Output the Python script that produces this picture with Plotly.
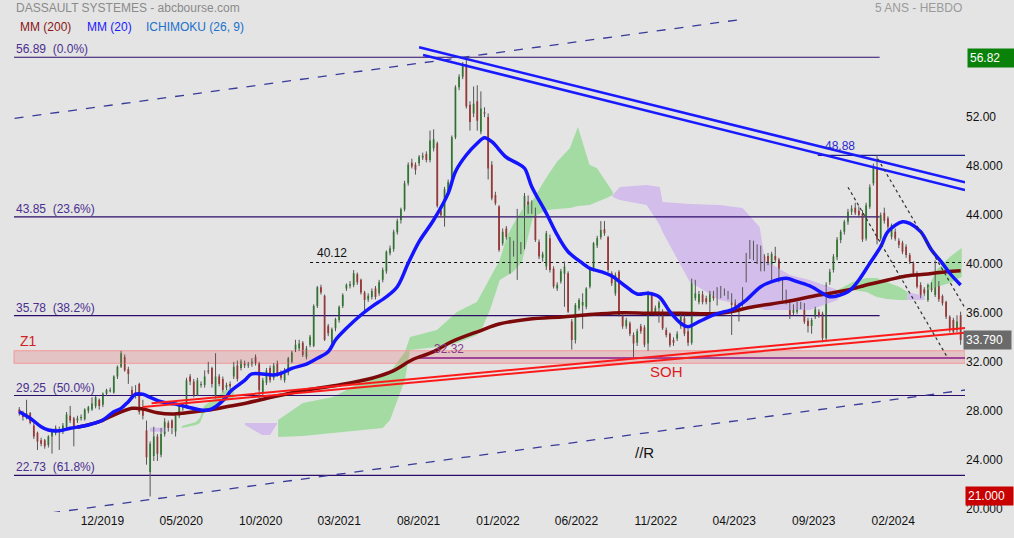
import pandas as pd
import plotly.graph_objects as go

# ---------------- DATA ----------------
dates = pd.date_range("2019-06-24", periods=260, freq="7D")

opens = [28.1,27.8,27.5,27.8,26.8,26.2,25.6,25.6,25.2,25.9,26.2,26.5,26.3,26.7,27.6,27.4,27.2,27.4,27.3,28.0,
 28.1,28.4,28.9,28.5,29.4,29.6,29.5,30.8,31.6,32.4,31.4,29.7,29.5,30.2,28.2,26.4,23.0,24.3,25.9,24.4,
 26.1,27.0,27.2,26.3,27.6,28.2,28.3,30.8,30.4,29.3,30.1,30.1,31.3,31.5,29.2,30.8,30.6,29.9,30.2,30.8,
 31.7,31.5,31.9,31.7,31.8,32.4,31.9,29.4,30.3,31.5,30.7,31.9,31.1,30.5,31.1,32.0,33.0,33.1,33.57,32.4,
 33.38,33.3,36.57,38.1,37.4,34.93,33.57,34.74,35.4,36.57,38.0,38.2,38.28,39.16,38.7,37.66,37.1,37.3,38.0,37.6,
 38.7,39.4,40.87,41.23,42.6,43.6,44.47,46.6,48.28,48.1,48.23,48.7,48.99,48.5,49.45,49.86,44.36,43.87,45.9,46.7,
 50.35,54.44,55.3,56.35,53.0,52.3,53.3,50.8,52.4,52.0,48.1,45.64,44.69,41.69,42.9,40.19,40.87,41.0,41.55,41.4,
 45.1,44.96,44.4,41.8,40.5,39.8,42.1,39.6,38.0,38.56,39.2,39.24,35.29,33.79,36.38,36.6,36.5,38.15,39.6,41.5,
 42.18,42.83,42.18,39.24,37.6,39.37,35.75,34.9,35.15,34.2,33.57,34.9,34.8,33.5,37.47,35.97,36.38,36.1,34.6,34.3,
 33.79,33.9,34.9,35.56,34.5,33.57,37.2,36.9,37.5,37.2,36.9,37.6,37.47,37.87,37.65,37.65,37.46,36.9,36.5,36.78,
 38.69,40.6,41.63,40.18,41.27,40.6,40.65,38.96,40.65,40.37,38.69,37.65,36.9,36.0,36.1,36.7,36.56,35.36,34.93,35.69,
 36.1,35.96,33.92,38.55,39.5,40.54,41.95,42.64,43.45,44.27,44.6,44.35,44.13,42.09,44.68,46.59,47.81,42.09,44.19,43.73,
 42.23,42.64,41.9,41.74,41.41,40.73,40.05,39.23,38.28,37.92,37.05,38.28,37.46,38.41,37.38,36.9,35.69,35.42,34.6,35.8]

highs = [28.3,28.0,28.9,27.9,27.0,26.3,25.8,25.7,26.0,26.4,26.8,26.7,27.0,27.9,28.4,27.5,27.6,27.7,28.2,28.4,
 29.1,29.2,29.0,29.5,29.8,29.9,30.9,31.7,32.9,32.6,31.6,30.0,30.1,30.3,28.9,27.2,25.5,26.7,26.1,26.6,
 27.4,27.2,27.3,27.8,28.5,28.6,30.7,31.0,30.6,30.7,30.4,31.3,32.0,31.6,32.7,31.0,30.8,30.3,30.4,32.0,
 32.1,32.2,32.1,32.0,32.3,32.6,32.0,30.7,31.5,31.7,31.9,32.1,31.3,31.5,32.4,32.9,33.8,33.8,33.7,33.3,
 34.2,36.7,38.2,38.3,37.5,35.1,34.8,35.6,36.6,37.6,38.4,38.6,39.5,39.3,38.8,37.8,37.6,38.0,38.2,38.7,
 39.7,41.1,41.5,42.8,43.7,44.6,46.8,48.3,48.6,48.3,48.9,49.1,49.2,50.9,51.0,50.0,44.6,46.3,46.9,50.5,
 54.6,55.5,56.5,56.82,53.3,54.5,54.6,54.1,52.8,52.3,48.4,45.9,44.8,42.9,43.1,42.2,41.9,44.5,41.8,45.8,
 45.6,45.2,44.6,42.0,41.0,42.7,42.4,39.8,38.5,39.6,40.2,39.4,35.5,36.8,37.2,37.6,38.1,39.7,41.8,42.3,
 43.5,43.5,42.3,39.4,39.3,39.5,35.9,35.6,35.3,34.4,34.7,35.1,35.0,37.8,37.7,36.6,37.0,36.3,34.8,34.4,
 34.0,34.5,35.9,35.8,34.7,38.8,38.7,37.8,37.8,37.4,37.8,37.8,38.1,38.2,38.0,37.8,37.6,37.1,36.8,38.1,
 40.9,41.96,41.9,41.6,41.5,40.8,40.9,41.0,41.4,40.5,38.9,37.9,37.1,36.7,36.9,36.9,36.8,35.6,35.6,36.5,
 36.3,36.1,38.5,39.6,40.8,42.2,42.8,43.6,44.5,44.8,45.0,44.7,44.4,45.0,46.5,48.2,48.88,44.2,44.6,43.9,
 43.3,42.9,42.1,41.9,41.6,40.9,40.2,39.4,38.5,38.1,38.4,38.5,40.3,38.6,37.5,37.0,35.8,35.6,35.8,36.1]

lows = [27.6,27.2,27.3,26.9,25.7,24.8,25.1,24.9,25.0,24.5,26.0,24.8,26.1,26.5,27.0,25.1,27.0,27.2,27.2,27.8,
 28.0,28.2,28.1,28.3,29.2,29.5,29.4,30.6,31.5,31.2,30.2,29.1,29.0,27.7,27.3,23.6,21.0,23.9,23.9,24.2,
 25.9,26.3,26.1,25.9,27.4,28.0,28.2,30.1,29.1,29.2,29.9,29.9,31.0,29.9,29.0,30.0,29.5,29.7,29.8,30.6,
 30.4,31.3,31.5,31.5,31.6,31.7,29.0,29.2,30.1,30.3,30.5,30.8,30.5,30.3,30.9,31.9,32.8,32.9,32.4,32.2,
 33.2,33.2,36.4,37.5,33.7,34.1,33.4,34.5,35.2,36.4,37.8,38.0,38.1,38.3,37.5,36.2,36.9,37.1,37.1,37.4,
 38.5,39.2,40.7,41.0,42.4,43.3,44.3,46.4,47.8,47.3,48.0,48.5,48.3,48.3,49.2,44.6,43.8,43.05,45.7,46.5,
 50.2,54.2,55.1,52.7,50.9,52.0,50.9,50.6,52.0,46.9,45.2,44.8,41.0,41.5,42.0,39.2,40.6,38.7,40.8,41.2,
 44.1,44.1,41.8,40.4,40.2,39.5,39.3,38.0,37.8,38.4,36.5,36.0,33.0,33.5,36.2,34.7,36.3,38.0,39.4,41.3,
 42.0,42.3,39.3,38.2,37.4,35.7,34.7,34.7,34.1,32.4,33.3,34.3,33.2,32.9,35.9,35.8,35.2,34.6,34.0,33.2,
 33.3,33.7,34.7,34.1,33.3,33.4,37.0,36.7,36.7,36.7,36.0,37.0,36.6,37.2,37.4,37.1,34.2,36.3,35.3,36.5,
 38.5,40.4,40.3,40.0,39.4,39.4,39.9,38.7,40.1,38.5,37.0,36.7,35.5,35.8,35.9,36.3,35.1,34.4,34.3,35.5,
 35.6,33.6,33.7,38.3,39.3,40.3,41.7,42.4,43.2,44.0,44.0,43.8,41.8,41.9,44.5,46.4,41.6,41.9,43.3,42.8,
 42.0,41.9,41.3,40.8,40.5,40.0,39.0,38.0,37.2,37.4,36.9,37.7,37.3,36.9,36.6,35.5,34.4,34.3,34.4,33.4]

closes = [27.8,27.5,27.8,27.0,25.9,25.5,25.3,25.1,25.9,26.3,26.6,26.4,26.8,27.7,27.2,26.6,27.4,27.5,28.1,28.3,
 28.6,29.1,28.4,29.4,29.7,29.7,30.8,31.6,32.7,31.3,31.0,29.3,29.4,27.9,27.6,24.2,25.3,25.9,24.5,26.1,
 27.1,26.6,26.6,27.6,28.4,28.4,30.5,30.4,29.3,30.5,30.2,30.8,31.2,30.2,30.8,30.2,29.7,30.1,30.0,31.6,
 30.6,32.0,31.7,31.8,32.0,31.9,29.7,30.5,31.3,30.5,31.7,30.9,30.7,31.3,32.3,32.76,33.4,33.5,32.57,33.1,
 34.06,36.57,38.1,37.66,33.8,34.33,34.66,35.48,36.5,37.47,38.3,38.35,39.24,38.5,37.66,37.06,37.4,37.8,37.3,38.5,
 39.5,41.0,41.28,42.64,43.5,44.47,46.6,48.1,47.96,47.7,48.77,48.85,48.5,50.08,50.19,44.74,43.98,46.1,46.7,50.35,
 54.44,55.3,56.35,52.86,51.6,53.1,51.7,52.7,52.3,47.8,45.37,44.96,41.15,42.64,42.2,40.74,41.69,42.1,41.0,45.56,
 44.3,44.3,41.96,40.6,40.8,42.5,39.5,38.15,38.3,39.4,39.8,36.1,33.79,36.65,37.06,36.9,38.0,39.6,41.69,42.1,
 42.78,42.5,39.5,38.42,39.1,35.83,34.9,35.4,34.3,33.5,34.5,34.5,33.4,37.6,36.1,36.4,36.84,34.75,34.2,33.38,
 33.57,34.3,35.7,34.3,33.57,38.56,37.6,37.55,36.9,36.9,37.6,37.2,37.9,37.46,37.87,37.3,36.64,36.5,36.4,37.92,
 40.73,41.68,40.54,41.41,39.64,39.64,40.05,40.81,40.32,38.69,37.19,36.9,35.74,36.45,36.64,36.5,35.28,34.93,35.42,36.29,
 35.83,33.92,38.28,39.37,40.6,42.0,42.64,43.45,44.27,44.54,44.19,44.0,42.0,44.8,46.26,48.0,42.0,44.0,43.54,43.05,
 43.18,42.09,41.55,41.0,40.73,40.18,39.23,38.14,37.38,37.6,38.28,37.87,38.55,37.11,36.78,35.69,34.6,34.46,35.3,33.79]

# moving averages (week index, value)
ma20_idx = [0,3,6,8,11,14,19,23,26,28,30,32,34,36,39,43,46,50,52,54,57,58,62,64,70,72,75,79,82,85,87,90,94,97,
            101,104,107,110,114,118,120,123,126,128,130,134,137,139,141,145,148,151,155,157,160,163,167,170,173,
            176,179,182,184,187,191,194,196,200,204,207,211,214,218,221,223,228,231,234,237,239,243,245,248,251,
            254,256,259]
ma20_val = [27.93,27.39,26.70,26.43,26.37,26.57,26.84,27.25,27.93,28.20,28.74,29.36,29.35,29.10,28.74,28.55,28.33,
            28.06,28.06,28.33,29.15,29.56,30.48,31.01,30.92,31.06,31.47,31.82,32.29,32.83,33.79,34.74,35.83,36.51,
            37.32,38.14,40.05,41.82,43.59,45.77,47.54,48.90,49.86,50.32,49.99,48.72,48.23,47.82,46.31,44.14,42.37,
            41.00,40.05,39.64,39.37,39.02,38.14,37.54,37.60,37.32,36.10,35.15,34.87,35.28,35.83,36.10,36.24,37.05,
            38.14,38.55,38.83,38.55,38.14,37.60,37.32,37.73,38.69,40.05,41.41,42.64,43.45,43.32,42.64,41.14,40.05,
            39.24,38.28]
ma200_idx = [16,22,25,31,34,38,42,46,52,57,62,70,79,88,97,103,108,114,119,127,132,140,150,159,166,173,182,193,
             202,211,220,228,233,239,244,250,255,259]
ma200_val = [26.65,27.11,27.52,28.20,28.15,27.84,27.74,27.84,28.06,28.33,28.60,29.15,29.70,30.11,30.66,31.28,32.15,
             32.83,33.65,34.56,35.09,35.48,35.69,35.91,36.02,35.97,35.97,35.97,36.51,36.92,37.46,37.87,38.28,38.69,
             39.02,39.18,39.37,39.45]

# Ichimoku cloud segments: (colour, week index, top, bottom)
cloud_segments = [
    ("purple", [35.9, 40.3], [26.62, 26.62], [26.29, 26.29]),
    ("green", [44.7, 48.6, 49.7, 50.8, 53.5, 56.8, 59.0],
              [26.76, 27.08, 27.41, 28.39, 28.96, 29.70, 29.94],
              [26.60, 26.84, 27.00, 27.82, 28.23, 28.80, 29.05]),
    ("purple", [62.1, 66.8, 69.0, 70.9], [27.0, 27.0, 27.0, 27.0], [26.84, 26.03, 26.03, 26.92]),
    ("green", [71.2, 78.0, 86.3, 93.7, 100.0, 102.0, 106.1, 107.5, 114.9, 120.4, 125.9, 127.5, 129.5,
               132.2, 134.1, 135.8, 138.3, 141.3, 145.1, 147.9, 151.5, 153.7, 156.9, 158.9, 161.6, 163.3],
              [27.25, 28.64, 29.13, 30.27, 31.01, 31.17, 32.80, 34.03, 34.60, 36.07, 36.89, 37.71, 38.85,
               40.32, 42.20, 43.18, 44.41, 45.23, 47.11, 48.33, 49.48, 51.20, 48.09, 47.84, 46.70, 45.88],
              [25.86, 25.94, 26.19, 26.43, 26.60, 27.25, 30.52, 32.97, 33.21, 33.54, 34.19, 34.85, 36.24,
               38.69, 39.01, 39.34, 40.15, 43.83, 44.41, 44.49, 44.57, 44.73, 44.81, 45.06, 45.38, 45.63]),
    ("purple", [163.3, 165.2, 172.6, 176.2, 177.0, 184.5, 192.7, 199.0, 203.7, 205.1, 212.0, 217.5, 225.2],
               [45.63, 46.28, 46.45, 46.28, 45.06, 44.90, 44.81, 44.57, 43.02, 40.32, 39.09, 38.69, 37.87],
               [45.47, 45.23, 44.81, 43.18, 42.61, 38.52, 37.05, 36.64, 36.39, 36.23, 36.23, 36.23, 37.05]),
    ("green", [225.2, 229.3, 233.1, 235.9, 238.6, 242.2, 244.4],
              [37.87, 38.52, 38.85, 38.85, 38.52, 38.11, 37.71],
              [37.71, 37.87, 37.71, 37.30, 37.14, 37.05, 37.05]),
    ("purple", [244.4, 249.1], [37.71, 37.38], [37.05, 37.05]),
    ("green", [249.7, 252.4, 256.0, 259.3], [37.87, 39.50, 40.57, 41.30], [37.87, 38.11, 38.44, 38.93]),
]

fib_levels = [56.89, 43.85, 35.78, 29.25, 22.73]
fib_pcts = ["0.0%", "23.6%", "38.2%", "50.0%", "61.8%"]
fib_end_idx = [236.7, 236.7, 236.7, 260.2, 260.2]

# drawn lines: (start week index, start value, end week index, end value)
blue_lines = [(110.0, 57.71, 260.2, 46.67), (111.1, 57.08, 260.2, 46.04)]
red_lines = [(36.4, 28.61, 260.2, 34.77), (34.0, 28.31, 260.2, 34.38)]
dash_lines = [(-1.3, 51.90, 199.6, 60.02), (3.85, 19.46, 260.2, 29.70)]
dot_lines = [(228.0, 46.27, 255.5, 32.29), (236.2, 48.60, 260.2, 36.40)]

level_40 = (80.0, 40.12)
level_48 = (219.7, 48.88)
level_32 = (108.8, 32.32)
zone_z1 = (-1.46, 31.88, 32.91)

last_price = 33.79
box_high = 56.82
box_low = 21.0

xtick_vals = ["2019-12-01", "2020-05-01", "2020-10-01", "2021-03-01", "2021-08-01", "2022-01-01",
              "2022-06-01", "2022-11-01", "2023-04-01", "2023-09-01", "2024-02-01"]
xtick_text = ["12/2019", "05/2020", "10/2020", "03/2021", "08/2021", "01/2022",
              "06/2022", "11/2022", "04/2023", "09/2023", "02/2024"]
ytick_vals = [20, 24, 28, 32, 36, 40, 44, 48, 52]
ytick_text = ["20.000", "24.000", "28.000", "32.000", "36.000", "40.000", "44.000", "48.000", "52.00"]

# ---------------- FIGURE ----------------
def d(f):
    return dates[0] + pd.Timedelta(days=7 * f)

FONT = "Liberation Sans, Arial, sans-serif"
BG = "#e4e4e4"
fig = go.Figure()

cloud_col = {"green": "#a3dba3", "purple": "#d3bdeb"}
for col, xs, top, bot in cloud_segments:
    fig.add_trace(go.Scatter(
        x=[d(v) for v in xs] + [d(v) for v in xs[::-1]],
        y=list(top) + list(bot[::-1]),
        fill="toself", fillcolor=cloud_col[col], line=dict(width=0),
        mode="lines", hoverinfo="skip", showlegend=False))

# Z1 zone
fig.add_trace(go.Scatter(
    x=[d(zone_z1[0]), d(260.2), d(260.2), d(zone_z1[0]), d(zone_z1[0])],
    y=[zone_z1[1], zone_z1[1], zone_z1[2], zone_z1[2], zone_z1[1]],
    fill="toself", fillcolor="rgba(225,120,120,0.30)", line=dict(color="#f29a9a", width=1),
    mode="lines", hoverinfo="skip", showlegend=False))

# fibonacci levels
for lv, ei in zip(fib_levels, fib_end_idx):
    fig.add_trace(go.Scatter(x=[d(-1.46), d(ei)], y=[lv, lv], mode="lines",
                             line=dict(color="#2c0c6a", width=1.2), hoverinfo="skip", showlegend=False))

# other horizontal levels
fig.add_trace(go.Scatter(x=[d(level_40[0]), d(260.2)], y=[level_40[1]] * 2, mode="lines",
                         line=dict(color="#111111", width=1.2, dash="dot"), showlegend=False, hoverinfo="skip"))
fig.add_trace(go.Scatter(x=[d(level_48[0]), d(260.2)], y=[level_48[1]] * 2, mode="lines",
                         line=dict(color="#1c1c8c", width=1.2), showlegend=False, hoverinfo="skip"))
fig.add_trace(go.Scatter(x=[d(level_32[0]), d(260.2)], y=[level_32[1]] * 2, mode="lines",
                         line=dict(color="#8a1a8a", width=1.5), showlegend=False, hoverinfo="skip"))

# dashed channel
for x0, y0, x1, y1 in dash_lines:
    fig.add_trace(go.Scatter(x=[d(x0), d(x1)], y=[y0, y1], mode="lines",
                             line=dict(color="#3a3a9a", width=1.3, dash="dash"), showlegend=False, hoverinfo="skip"))

# wicks
wx, wy = [], []
for dt, lo, hi in zip(dates, lows, highs):
    wx += [dt, dt, None]
    wy += [lo, hi, None]
fig.add_trace(go.Scatter(x=wx, y=wy, mode="lines", line=dict(color="#555555", width=1),
                         hoverinfo="skip", showlegend=False))

fig.add_trace(go.Candlestick(
    x=dates, open=opens, high=highs, low=lows, close=closes,
    increasing=dict(fillcolor="#16a016", line=dict(color="#16a016", width=0)),
    decreasing=dict(fillcolor="#e31a1a", line=dict(color="#e31a1a", width=0)),
    whiskerwidth=0, showlegend=False))

# moving averages
fig.add_trace(go.Scatter(x=[dates[i] for i in ma200_idx], y=ma200_val, mode="lines",
                         line=dict(color="#7c0a0a", width=3.5, shape="spline"), showlegend=False))
fig.add_trace(go.Scatter(x=[dates[i] for i in ma20_idx], y=ma20_val, mode="lines",
                         line=dict(color="#1414ff", width=3.5, shape="spline"), showlegend=False))

# trend lines
for x0, y0, x1, y1 in red_lines:
    fig.add_trace(go.Scatter(x=[d(x0), d(x1)], y=[y0, y1], mode="lines",
                             line=dict(color="#ff1a1a", width=2), showlegend=False, hoverinfo="skip"))
for x0, y0, x1, y1 in blue_lines:
    fig.add_trace(go.Scatter(x=[d(x0), d(x1)], y=[y0, y1], mode="lines",
                             line=dict(color="#1a1aff", width=2.5), showlegend=False, hoverinfo="skip"))
for x0, y0, x1, y1 in dot_lines:
    fig.add_trace(go.Scatter(x=[d(x0), d(x1)], y=[y0, y1], mode="lines",
                             line=dict(color="#333333", width=1.2, dash="dot"), showlegend=False, hoverinfo="skip"))

PW, PH = 965.0, 512.0
ann = []
def paper_text(px, py, text, color, size=12, xanchor="left"):
    ann.append(dict(x=px / PW, y=1 - py / PH, xref="paper", yref="paper", text=text, showarrow=False,
                    xanchor=xanchor, yanchor="middle", font=dict(family=FONT, size=size, color=color)))

paper_text(14, 8, "DASSAULT SYSTEMES - abcbourse.com", "#8a8a8a")
paper_text(964, 8, "5 ANS - HEBDO", "#9a9a9a", xanchor="right")
paper_text(18, 27, "MM (200)", "#8b1515")
paper_text(85, 27, "MM (20)", "#1a1aff")
paper_text(144, 27, "ICHIMOKU (26, 9)", "#2070cc")

for lv, pc in zip(fib_levels, fib_pcts):
    ann.append(dict(x=d(-1.46), y=lv, text=f"{lv:.2f}\u00a0\u00a0({pc})", showarrow=False, xanchor="left",
                    yanchor="bottom", yshift=-1, font=dict(family=FONT, size=12, color="#4a2e90")))

def data_text(xi, yv, text, color, size=12, xanchor="left", yanchor="bottom"):
    ann.append(dict(x=d(xi), y=yv, text=text, showarrow=False, xanchor=xanchor, yanchor=yanchor,
                    font=dict(family=FONT, size=size, color=color)))

data_text(81.3, 40.12, "40.12", "#111111")
data_text(221.0, 48.88, "48.88", "#2a2ad0")
data_text(113.5, 32.32, "32.32", "#8a3a8a")
data_text(-0.4, 33.71, "Z1", "#d02020", size=14, yanchor="middle")
data_text(178.1, 31.25, "SOH", "#e01a1a", size=15, xanchor="center", yanchor="middle")
data_text(172.1, 24.63, "//R", "#111111", size=15, xanchor="center", yanchor="middle")

def price_box(v, text, bg, shift):
    ann.append(dict(x=1, xref="paper", y=v, yref="y", text=text, showarrow=False, xanchor="left",
                    yanchor="middle", xshift=shift, bgcolor=bg, borderpad=2, width=43, align="left",
                    font=dict(family=FONT, size=12, color="white")))

price_box(box_high, "56.82", "#0a820a", 2)
price_box(last_price, "33.790", "#6a6a6a", -2)
price_box(box_low, "21.000", "#c80000", 0)

fig.update_layout(
    width=1014, height=538, margin=dict(l=0, r=49, t=0, b=26),
    paper_bgcolor=BG, plot_bgcolor=BG, showlegend=False, annotations=ann,
    font=dict(family=FONT, size=12, color="#111111"),
    xaxis=dict(type="date", range=[d(-5.31), d(260.2)], rangeslider=dict(visible=False),
               tickvals=xtick_vals, ticktext=xtick_text, showgrid=False, zeroline=False, showline=False,
               ticks="", tickfont=dict(size=12, color="#111111")),
    yaxis=dict(side="right", range=[19.73, 61.57], tickvals=ytick_vals, ticktext=ytick_text,
               showgrid=False, zeroline=False, showline=False, ticks="",
               tickfont=dict(size=12, color="#111111")),
)

fig.write_html("out.html", config={"displayModeBar": False},
               post_script="document.body.style.margin='0';document.body.style.background='#e4e4e4';")
